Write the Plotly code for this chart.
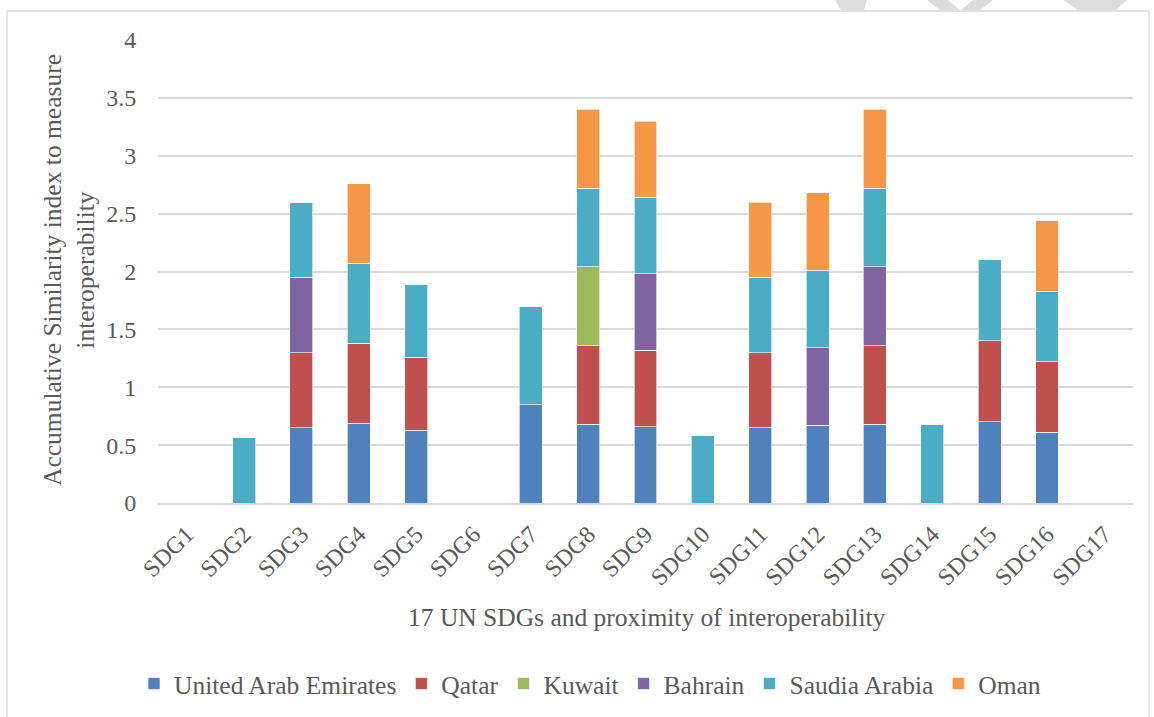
import plotly.graph_objects as go

categories = [f"SDG{i}" for i in range(1, 18)]

uae     = [0, 0, 0.65, 0.69, 0.63, 0, 0.85, 0.68, 0.66, 0, 0.65, 0.67, 0.68, 0, 0.70, 0.61, 0]
qatar   = [0, 0, 0.65, 0.69, 0.63, 0, 0, 0.68, 0.66, 0, 0.65, 0, 0.68, 0, 0.70, 0.61, 0]
kuwait  = [0, 0, 0, 0, 0, 0, 0, 0.68, 0, 0, 0, 0, 0, 0, 0, 0, 0]
bahrain = [0, 0, 0.65, 0, 0, 0, 0, 0, 0.66, 0, 0, 0.67, 0.68, 0, 0, 0, 0]
saudi   = [0, 0.57, 0.65, 0.69, 0.63, 0, 0.85, 0.68, 0.66, 0.58, 0.65, 0.67, 0.68, 0.68, 0.70, 0.61, 0]
oman    = [0, 0, 0, 0.69, 0, 0, 0, 0.68, 0.66, 0, 0.65, 0.67, 0.68, 0, 0, 0.61, 0]

series = [
    ("United Arab Emirates", uae, "#4F81BD"),
    ("Qatar", qatar, "#C0504D"),
    ("Kuwait", kuwait, "#9BBB59"),
    ("Bahrain", bahrain, "#8064A2"),
    ("Saudia Arabia", saudi, "#4BACC6"),
    ("Oman", oman, "#F79646"),
]

FONT = "Liberation Serif"
GREY = "#595959"
TICK_SIZE = 24
TEXT_SIZE = 25.5

fig = go.Figure()
for name, vals, col in series:
    fig.add_trace(go.Bar(
        x=categories, y=vals, name=name,
        marker=dict(color=col, line=dict(color="rgba(255,255,255,0.8)", width=0.8)),
    ))

# layout geometry (pixels)
W, H = 1154, 717
L, R, T, B = 158, 21, 40, 214
pw, ph = W - L - R, H - T - B

def px(x):
    return (x - L) / pw

def py(y):
    return (H - B - y) / ph

shapes = []
# chart border
shapes.append(dict(type="rect", xref="paper", yref="paper",
                   x0=px(7), x1=px(1149), y0=py(730), y1=py(11),
                   line=dict(color="#d9d9d9", width=1.5), fillcolor="rgba(0,0,0,0)", layer="below"))

# faint watermark fragments at top right
def poly(pts):
    path = "M " + " L ".join(f"{px(a)},{py(b)}" for a, b in pts) + " Z"
    return dict(type="path", xref="paper", yref="paper", path=path,
                line=dict(width=0), fillcolor="#dcdcdc", layer="below")

shapes.append(poly([(835, 0), (867, 0), (864, 10), (841, 10)]))
shapes.append(poly([(927, 0), (948, 0), (960, 10), (940, 10)]))
shapes.append(poly([(973, 0), (993, 0), (980, 10), (961, 10)]))
shapes.append(poly([(1063, 0), (1127, 0), (1116, 10), (1078, 10)]))

annotations = [
    dict(text="Accumulative Similarity index to measure<br>interoperability",
         xref="paper", yref="paper", x=px(69), y=py(270), textangle=-90,
         showarrow=False, xanchor="center", yanchor="middle",
         font=dict(family=FONT, size=TEXT_SIZE, color=GREY)),
    dict(text="17 UN SDGs and proximity of interoperability",
         xref="paper", yref="paper", x=px(647), y=py(617),
         showarrow=False, xanchor="center", yanchor="middle",
         font=dict(family=FONT, size=TEXT_SIZE, color=GREY)),
]

fig.update_layout(
    barmode="stack",
    bargap=0.6,
    width=W, height=H,
    margin=dict(l=L, r=R, t=T, b=B, autoexpand=False),
    paper_bgcolor="white",
    plot_bgcolor="white",
    font=dict(family=FONT, size=TICK_SIZE, color=GREY),
    shapes=shapes,
    annotations=annotations,
    legend=dict(orientation="h", x=px(590), xanchor="center", y=py(684), yanchor="middle",
                font=dict(family=FONT, size=TEXT_SIZE, color=GREY),
                itemwidth=30, traceorder="normal", itemclick=False),
    showlegend=True,
)
fig.update_xaxes(
    tickangle=-45, tickfont=dict(family=FONT, size=TICK_SIZE, color=GREY),
    showgrid=False, showline=True, linecolor="#d9d9d9", linewidth=1.5,
    ticks="outside", ticklen=6, tickcolor="white", fixedrange=True,
)
fig.update_yaxes(
    range=[0, 4], dtick=0.5, tickformat="~g",
    tickfont=dict(family=FONT, size=TICK_SIZE, color=GREY),
    showgrid=True, gridcolor="#d9d9d9", gridwidth=1.5,
    zeroline=False, showline=False, ticks="outside", ticklen=16, tickcolor="white",
    fixedrange=True,
)

fig.write_html("out.html", config={"displayModeBar": False},
               post_script="document.body.style.margin='0';document.body.style.overflow='hidden';")
